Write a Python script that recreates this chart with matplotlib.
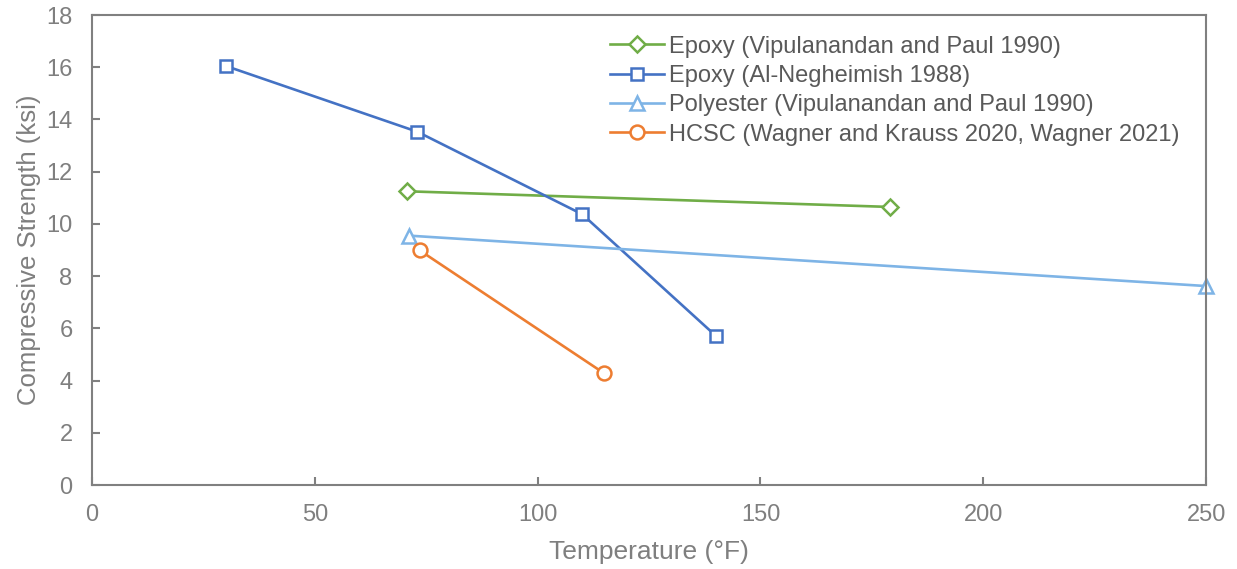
import matplotlib.pyplot as plt

plt.rcParams['font.family'] = ['Liberation Sans', 'DejaVu Sans']

# Epoxy (Vipulanandan and Paul 1990)
epoxy_vp_temp = [70.6, 179]
epoxy_vp_str = [11.25, 10.65]
# Epoxy (Al-Negheimish 1988)
epoxy_an_temp = [30, 73, 110, 140]
epoxy_an_str = [16.05, 13.53, 10.37, 5.71]
# Polyester (Vipulanandan and Paul 1990)
poly_temp = [71.2, 250]
poly_str = [9.55, 7.62]
# HCSC (Wagner and Krauss 2020, Wagner 2021)
hcsc_temp = [73.5, 114.9]
hcsc_str = [8.99, 4.28]

gray = "#808080"
text_gray = "#7f7f7f"

fig = plt.figure(figsize=(12.37, 5.69), dpi=100)
ax = fig.add_axes([0.0744, 0.1476, 0.9006, 0.826])

style = dict(lw=1.9, mfc="white", mew=1.8, clip_on=False)
ax.plot(epoxy_vp_temp, epoxy_vp_str, color="#70AD47", marker="D", ms=8.5,
        mec="#70AD47", label="Epoxy (Vipulanandan and Paul 1990)", **style)
ax.plot(epoxy_an_temp, epoxy_an_str, color="#4472C4", marker="s", ms=8.5,
        mec="#4472C4", label="Epoxy (Al-Negheimish 1988)", **style)
ax.plot(poly_temp, poly_str, color="#7EB4E6", marker="^", ms=10,
        mec="#7EB4E6", label="Polyester (Vipulanandan and Paul 1990)", **style)
ax.plot(hcsc_temp, hcsc_str, color="#ED7D31", marker="o", ms=10,
        mec="#ED7D31", label="HCSC (Wagner and Krauss 2020, Wagner 2021)", **style)

ax.set_xlim(0, 250)
ax.set_ylim(0, 18)
ax.set_xticks(range(0, 251, 50))
ax.set_yticks(range(0, 19, 2))

for s in ax.spines.values():
    s.set_color(gray)
    s.set_linewidth(1.5)
ax.tick_params(direction="in", length=6, width=1.5, color=gray,
               labelcolor=text_gray, labelsize=17)
ax.tick_params(axis="x", pad=14)
ax.tick_params(axis="y", pad=14)

ax.set_xlabel("Temperature (°F)", fontsize=19, color=text_gray, labelpad=10)
ax.set_ylabel("Compressive Strength (ksi)", fontsize=18.5, color=text_gray, labelpad=4)

leg = ax.legend(loc="upper left", bbox_to_anchor=(0.4462, 1.0), frameon=False,
                fontsize=17, handlelength=2.3, handletextpad=0.2, labelspacing=0.31,
                borderaxespad=0.47)
for t in leg.get_texts():
    t.set_color("#595959")

fig.savefig("out.png", dpi=100)
